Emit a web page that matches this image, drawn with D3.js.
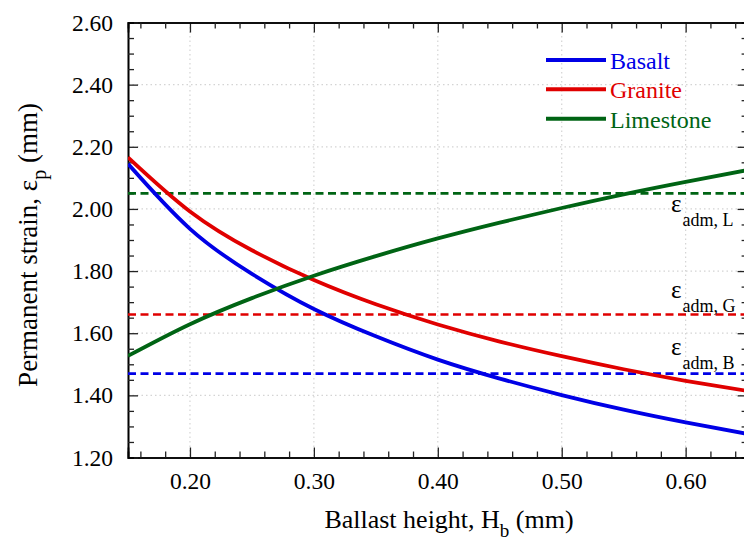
<!DOCTYPE html>
<html>
<head>
<meta charset="utf-8">
<script src="https://cdn.jsdelivr.net/npm/d3@7"></script>
<style>
  html, body { margin: 0; padding: 0; background: #fff; }
  svg { display: block; }
  svg text { font-family: "Liberation Serif", "Tinos", "Times New Roman", "DejaVu Serif", serif; }
</style>
</head>
<body>
<svg id="chart" width="744" height="540"></svg>
<script>
// ---- data ----
const heights   = [0.15, 0.20, 0.25, 0.30, 0.35, 0.40, 0.45, 0.50, 0.55, 0.60, 0.65];
const basalt    = [2.145, 1.936, 1.791, 1.678, 1.590, 1.515, 1.454, 1.401, 1.354, 1.313, 1.276];
const granite   = [2.166, 1.992, 1.867, 1.771, 1.693, 1.628, 1.573, 1.526, 1.484, 1.447, 1.414];
const limestone = [1.527, 1.629, 1.713, 1.785, 1.848, 1.905, 1.956, 2.003, 2.047, 2.087, 2.125];
const seriesNames = ["Basalt", "Granite", "Limestone"];
const admNames  = ["L", "G", "B"];
const admValues = [2.05, 1.66, 1.47];
const xTicks = [0.20, 0.30, 0.40, 0.50, 0.60];
const yTicks = [1.20, 1.40, 1.60, 1.80, 2.00, 2.20, 2.40, 2.60];

const colors = { Basalt: "#0000e6", Granite: "#e00000", Limestone: "#006414" };
const admColors = { L: "#006414", G: "#e00000", B: "#0000e6" };
const FONT = "'Liberation Serif', 'Tinos', 'Times New Roman', 'DejaVu Serif', serif";

const svg = d3.select("#chart").attr("font-family", FONT);
const pL = 128, pR = 747.6, pT = 22.5, pB = 457.5;

const x = d3.scaleLinear().domain([0.15, 0.65]).range([pL, pR]);
const y = d3.scaleLinear().domain([1.20, 2.60]).range([pB, pT]);

// clip
svg.append("defs").append("clipPath").attr("id", "clip")
  .append("rect").attr("x", pL).attr("y", pT).attr("width", pR - pL).attr("height", pB - pT);

// grid
const grid = svg.append("g");
grid.selectAll("line.gx").data(xTicks).join("line")
  .attr("x1", d => x(d)).attr("x2", d => x(d)).attr("y1", pT).attr("y2", pB)
  .attr("stroke", "#d4d4d4").attr("stroke-width", 1.2).attr("stroke-dasharray", "1.5,3");
grid.selectAll("line.gy").data(yTicks.filter(d => d > 1.2 && d < 2.6)).join("line")
  .attr("y1", d => y(d)).attr("y2", d => y(d)).attr("x1", pL).attr("x2", pR)
  .attr("stroke", "#d4d4d4").attr("stroke-width", 1.2).attr("stroke-dasharray", "1.5,3");

// axes
const xMinor = d3.range(0.16, 0.6401, 0.02).map(v => +v.toFixed(2)).filter(v => !xTicks.some(t => Math.abs(t - v) < 1e-6));
const yMinor = d3.range(1.25, 2.5501, 0.05).map(v => +v.toFixed(2)).filter(v => !yTicks.some(t => Math.abs(t - v) < 1e-6));

function styleAxis(g) {
  g.attr("font-family", FONT);
  g.select(".domain").attr("stroke", "#000").attr("stroke-width", 1.6);
  g.selectAll(".tick line").attr("stroke", "#222").attr("stroke-width", 1.3);
  g.selectAll(".tick text").attr("fill", "#000").attr("font-size", 23.5);
}

// bottom
svg.append("g").attr("transform", `translate(0,${pB})`)
  .call(d3.axisBottom(x).tickValues(xTicks).tickSize(-10).tickPadding(15).tickFormat(d3.format(".2f")))
  .call(styleAxis);
svg.append("g").attr("transform", `translate(0,${pB})`)
  .call(d3.axisBottom(x).tickValues(xMinor).tickSize(-6).tickFormat(""))
  .call(styleAxis);
// top
svg.append("g").attr("transform", `translate(0,${pT})`)
  .call(d3.axisTop(x).tickValues(xTicks).tickSize(-10).tickFormat(""))
  .call(styleAxis);
svg.append("g").attr("transform", `translate(0,${pT})`)
  .call(d3.axisTop(x).tickValues(xMinor).tickSize(-6).tickFormat(""))
  .call(styleAxis);
// left
svg.append("g").attr("transform", `translate(${pL},0)`)
  .call(d3.axisLeft(y).tickValues(yTicks).tickSize(-10).tickPadding(15).tickFormat(d3.format(".2f")))
  .call(styleAxis);
svg.append("g").attr("transform", `translate(${pL},0)`)
  .call(d3.axisLeft(y).tickValues(yMinor).tickSize(-6).tickFormat(""))
  .call(styleAxis);
// right
svg.append("g").attr("transform", `translate(${pR},0)`)
  .call(d3.axisRight(y).tickValues(yTicks).tickSize(-10).tickFormat(""))
  .call(styleAxis);
svg.append("g").attr("transform", `translate(${pR},0)`)
  .call(d3.axisRight(y).tickValues(yMinor).tickSize(-6).tickFormat(""))
  .call(styleAxis);

// admissible dashed lines
const plot = svg.append("g").attr("clip-path", "url(#clip)");
plot.selectAll("line.adm").data(admNames).join("line")
  .attr("x1", pL).attr("x2", pR)
  .attr("y1", (d, i) => y(admValues[i])).attr("y2", (d, i) => y(admValues[i]))
  .attr("stroke", d => admColors[d]).attr("stroke-width", 2.6).attr("stroke-dasharray", "8,4.5");

// curves
const seriesData = [basalt, granite, limestone];
const line = d3.line().x((d, i) => x(heights[i])).y(d => y(d)).curve(d3.curveNatural);
plot.selectAll("path.s").data(seriesNames).join("path")
  .attr("d", (d, i) => line(seriesData[i]))
  .attr("fill", "none").attr("stroke", d => colors[d]).attr("stroke-width", 3.8);

// annotations
const annX = 671;
const annY = { L: 212, G: 298, B: 355 };
admNames.forEach((n, i) => {
  const t = svg.append("text").attr("x", annX).attr("y", annY[n]).attr("font-size", 25).attr("fill", "#000");
  t.append("tspan").text("ε");
  t.append("tspan").attr("dy", 14).attr("font-size", 18).attr("dx", 1).text("adm, " + n);
});

// legend
const legY = [60, 89.3, 118.7];
const leg = svg.append("g");
seriesNames.forEach((n, i) => {
  leg.append("line").attr("x1", 546).attr("x2", 606).attr("y1", legY[i]).attr("y2", legY[i])
    .attr("stroke", colors[n]).attr("stroke-width", 4);
  leg.append("text").attr("x", 610).attr("y", legY[i] + 9).attr("font-size", 24)
    .attr("fill", colors[n]).text(n);
});

// axis titles
const xt = svg.append("text").attr("x", 449).attr("y", 528).attr("text-anchor", "middle")
  .attr("font-size", 26).attr("fill", "#000");
xt.append("tspan").text("Ballast height, H");
xt.append("tspan").attr("dy", 9).attr("font-size", 19).text("b");
xt.append("tspan").attr("dy", -9).text(" (mm)");

const yt = svg.append("text").attr("transform", "translate(37,245) rotate(-90)").attr("text-anchor", "middle")
  .attr("font-size", 27).attr("fill", "#000");
yt.append("tspan").text("Permanent strain, ε");
yt.append("tspan").attr("dy", 9).attr("font-size", 20).text("p");
yt.append("tspan").attr("dy", -9).text(" (mm)");
</script>
</body>
</html>
